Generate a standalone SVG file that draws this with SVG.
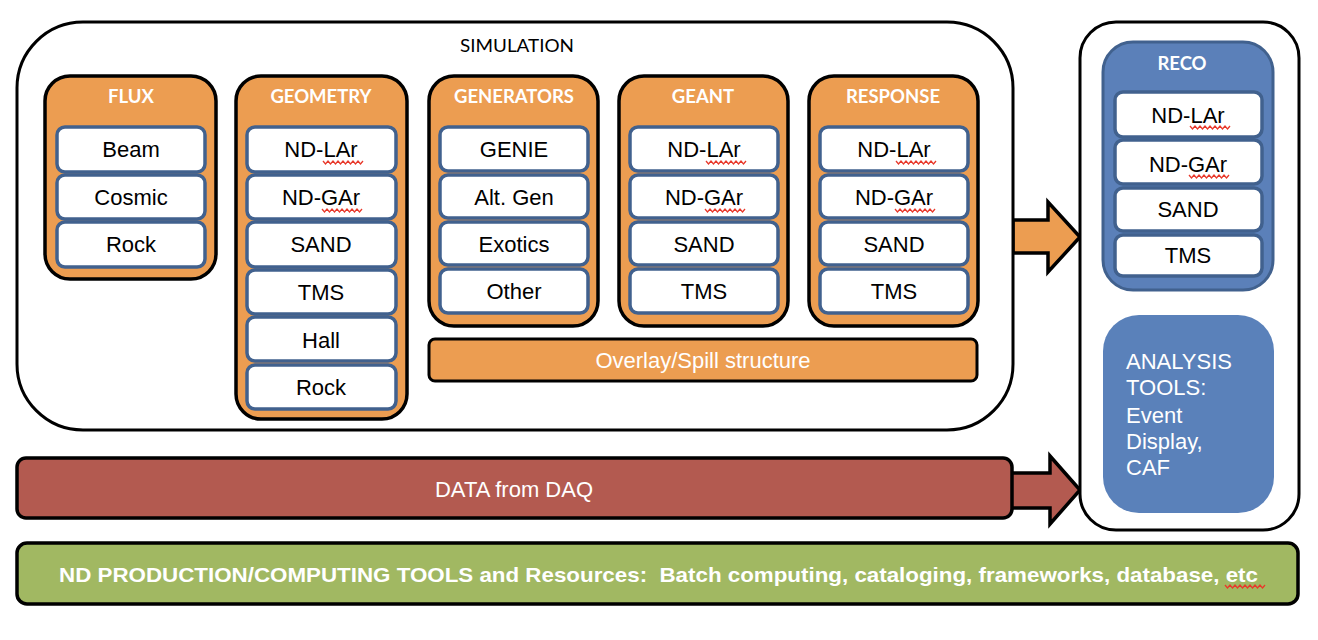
<svg xmlns="http://www.w3.org/2000/svg" xmlns:xlink="http://www.w3.org/1999/xlink" width="1318" height="640" viewBox="0 0 1318 640">
<style>
.outer{fill:#fff;stroke:#000;stroke-width:3}
.col{fill:#EC9D51;stroke:#000;stroke-width:3.5}
.ib{fill:#fff;stroke:#41618E;stroke-width:3.5}
.it{font-family:"Liberation Sans",Arial,sans-serif;font-size:22px;fill:#000;text-anchor:middle}
.tt{font-family:Lato,"Open Sans",sans-serif;font-weight:bold;font-size:18.5px;fill:#fff;text-anchor:middle}
.wt{font-family:"Liberation Sans",Arial,sans-serif;font-size:22px;fill:#fff}
.sq{fill:none;stroke:#E8392B;stroke-width:1.3}
.arr{stroke:#000;stroke-width:3.5;stroke-linejoin:miter}
</style>
<defs>
<path id="sq" class="sq" d="M0,0 l2.5,3 l2.5,-3 l2.5,3 l2.5,-3 l2.5,3 l2.5,-3 l2.5,3 l2.5,-3 l2.5,3 l2.5,-3 l2.5,3 l2.5,-3 l2.5,3 l2.5,-3 l2.5,3 l2.5,-3"/>
</defs>
<rect width="1318" height="640" fill="#fff"/>

<g id="connectors">
<polygon class="arr" fill="#EC9D51" points="1013,220 1048,220 1048,202 1080,237 1048,272 1048,253 1013,253"/>
<polygon class="arr" fill="#B35A50" points="1010,473 1050,473 1050,456 1080,490 1050,524 1050,508 1010,508"/>
</g>

<g id="simulation">
<rect class="outer" x="17" y="22" width="996" height="408" rx="66"/>
<text x="517" y="52" font-family="Lato,'Open Sans',sans-serif" font-size="17" fill="#000" text-anchor="middle" textLength="114" lengthAdjust="spacingAndGlyphs">SIMULATION</text>
</g>

<g id="flux">
<rect class="col" x="45" y="76" width="171" height="203" rx="25"/>
<text class="tt" x="131" y="103">FLUX</text>
<rect class="ib" x="57" y="127" width="148" height="45" rx="8"/>
<text class="it" x="131" y="157">Beam</text>
<rect class="ib" x="57" y="175" width="148" height="44" rx="8"/>
<text class="it" x="131" y="205">Cosmic</text>
<rect class="ib" x="57" y="222" width="148" height="45" rx="8"/>
<text class="it" x="131" y="252">Rock</text>
</g>

<g id="geometry">
<rect class="col" x="236" y="76" width="171" height="343" rx="25"/>
<text class="tt" x="321" y="103">GEOMETRY</text>
<rect class="ib" x="247" y="127" width="149" height="45" rx="8"/>
<text class="it" x="321" y="157">ND-LAr</text>
<use xlink:href="#sq" x="323" y="161"/>
<rect class="ib" x="247" y="175" width="149" height="44" rx="8"/>
<text class="it" x="321" y="205">ND-GAr</text>
<use xlink:href="#sq" x="322" y="209"/>
<rect class="ib" x="247" y="222" width="149" height="45" rx="8"/>
<text class="it" x="321" y="252">SAND</text>
<rect class="ib" x="247" y="270" width="149" height="44" rx="8"/>
<text class="it" x="321" y="300">TMS</text>
<rect class="ib" x="247" y="317" width="149" height="44" rx="8"/>
<text class="it" x="321" y="348">Hall</text>
<rect class="ib" x="247" y="365" width="149" height="44" rx="8"/>
<text class="it" x="321" y="395">Rock</text>
</g>

<g id="generators">
<rect class="col" x="429" y="76" width="169" height="250" rx="25"/>
<text class="tt" x="514" y="103">GENERATORS</text>
<rect class="ib" x="440" y="127" width="148" height="44" rx="8"/>
<text class="it" x="514" y="157">GENIE</text>
<rect class="ib" x="440" y="175" width="148" height="43" rx="8"/>
<text class="it" x="514" y="205">Alt. Gen</text>
<rect class="ib" x="440" y="222" width="148" height="43" rx="8"/>
<text class="it" x="514" y="252">Exotics</text>
<rect class="ib" x="440" y="269" width="148" height="44" rx="8"/>
<text class="it" x="514" y="299">Other</text>
</g>

<g id="geant">
<rect class="col" x="619" y="76" width="169" height="250" rx="25"/>
<text class="tt" x="703" y="103">GEANT</text>
<rect class="ib" x="630" y="127" width="148" height="44" rx="8"/>
<text class="it" x="704" y="157">ND-LAr</text>
<use xlink:href="#sq" x="706" y="161"/>
<rect class="ib" x="630" y="175" width="148" height="43" rx="8"/>
<text class="it" x="704" y="205">ND-GAr</text>
<use xlink:href="#sq" x="705" y="209"/>
<rect class="ib" x="630" y="222" width="148" height="43" rx="8"/>
<text class="it" x="704" y="252">SAND</text>
<rect class="ib" x="630" y="269" width="148" height="44" rx="8"/>
<text class="it" x="704" y="299">TMS</text>
</g>

<g id="response">
<rect class="col" x="809" y="76" width="169" height="250" rx="25"/>
<text class="tt" x="893" y="103">RESPONSE</text>
<rect class="ib" x="820" y="127" width="148" height="44" rx="8"/>
<text class="it" x="894" y="157">ND-LAr</text>
<use xlink:href="#sq" x="896" y="161"/>
<rect class="ib" x="820" y="175" width="148" height="43" rx="8"/>
<text class="it" x="894" y="205">ND-GAr</text>
<use xlink:href="#sq" x="895" y="209"/>
<rect class="ib" x="820" y="222" width="148" height="43" rx="8"/>
<text class="it" x="894" y="252">SAND</text>
<rect class="ib" x="820" y="269" width="148" height="44" rx="8"/>
<text class="it" x="894" y="299">TMS</text>
</g>

<g id="overlay">
<rect x="429" y="339" width="548" height="42" rx="6" fill="#EC9D51" stroke="#000" stroke-width="3"/>
<text class="wt" x="703" y="368" text-anchor="middle">Overlay/Spill structure</text>
</g>

<g id="reco-analysis">
<rect class="outer" x="1080" y="22" width="219" height="508" rx="36"/>
</g>

<g id="reco">
<rect x="1103" y="42" width="170" height="248" rx="30" fill="#5B80B9" stroke="#41618E" stroke-width="3"/>
<text class="tt" x="1182" y="70">RECO</text>
<rect class="ib" x="1115" y="92" width="147" height="45" rx="8"/>
<text class="it" x="1188" y="123">ND-LAr</text>
<use xlink:href="#sq" x="1190" y="126"/>
<rect class="ib" x="1115" y="140" width="147" height="44" rx="8"/>
<text class="it" x="1188" y="172">ND-GAr</text>
<use xlink:href="#sq" x="1189" y="175"/>
<rect class="ib" x="1115" y="188" width="147" height="43" rx="8"/>
<text class="it" x="1188" y="217">SAND</text>
<rect class="ib" x="1115" y="235" width="147" height="41" rx="8"/>
<text class="it" x="1188" y="263">TMS</text>
</g>

<g id="analysis">
<rect x="1103" y="315" width="171" height="198" rx="36" fill="#5A81BA"/>
<text class="wt" x="1126" y="369">ANALYSIS</text>
<text class="wt" x="1126" y="395">TOOLS:</text>
<text class="wt" x="1126" y="423">Event</text>
<text class="wt" x="1126" y="449">Display,</text>
<text class="wt" x="1126" y="475">CAF</text>
</g>

<g id="data">
<rect x="17" y="458" width="995" height="60" rx="9" fill="#B35A50" stroke="#000" stroke-width="3.5"/>
<text class="wt" x="514" y="497" text-anchor="middle">DATA from DAQ</text>
</g>

<g id="tools">
<rect x="17" y="543" width="1281" height="61" rx="10" fill="#A1B862" stroke="#000" stroke-width="3.5"/>
<text x="59" y="582" font-family="'Liberation Sans',Arial,sans-serif" font-weight="bold" font-size="21" fill="#fff" textLength="1199" lengthAdjust="spacingAndGlyphs" xml:space="preserve">ND PRODUCTION/COMPUTING TOOLS and Resources:  Batch computing, cataloging, frameworks, database, etc</text>
<use xlink:href="#sq" x="1225" y="585"/>
</g>
</svg>
